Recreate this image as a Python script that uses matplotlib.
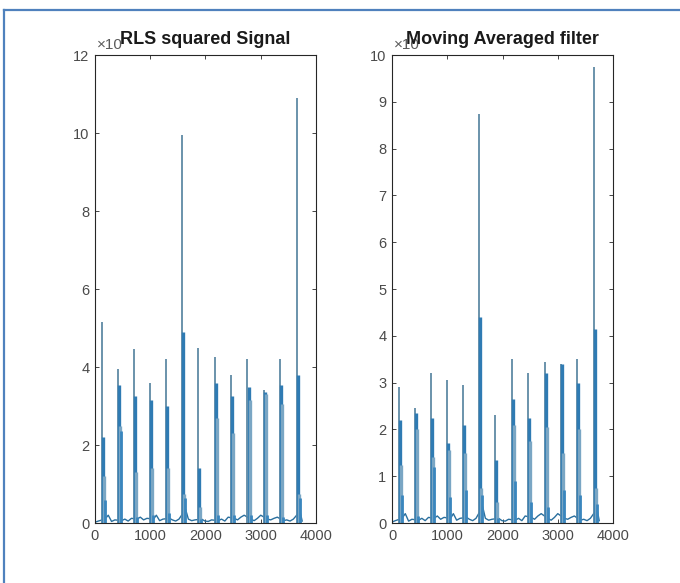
import numpy as np
import matplotlib.pyplot as plt

plt.rcParams['font.family'] = ['Liberation Sans', 'DejaVu Sans']

# cluster centres (sample index) shared by both signals
centres = [120, 415, 705, 995, 1290, 1580, 1870, 2175, 2465, 2760, 3060, 3350, 3650]

# RLS squared signal: heights of the spikes in each cluster
rls_peak = [5.15, 3.95, 4.45, 3.6, 4.2, 9.95, 4.5, 4.25, 3.8, 4.2, 3.4, 4.2, 10.9]
rls_second = [2.2, 3.55, 3.25, 3.15, 3.0, 4.9, 1.4, 3.6, 3.25, 3.5, 3.35, 3.55, 3.8]
rls_third = [1.2, 2.5, 1.3, 1.4, 1.4, 0.75, 0.4, 2.7, 2.3, 3.15, 3.3, 3.05, 0.75]
rls_fourth = [0.6, 2.35, 0.15, 0.2, 0.25, 0.65, 0.1, 0.2, 0.2, 0.2, 0.2, 0.15, 0.65]

# moving averaged filter output
mav_peak = [2.9, 2.45, 3.2, 3.05, 2.95, 8.75, 2.3, 3.5, 3.2, 3.45, 3.4, 3.5, 9.75]
mav_second = [2.2, 2.35, 2.25, 1.7, 2.1, 4.4, 1.35, 2.65, 2.25, 3.2, 3.4, 3.0, 4.15]
mav_third = [1.25, 2.0, 1.4, 1.55, 1.5, 0.75, 0.45, 2.1, 1.75, 2.05, 1.5, 2.0, 0.75]
mav_fourth = [0.6, 0.15, 1.2, 0.55, 0.7, 0.6, 0.1, 0.9, 0.45, 0.35, 0.7, 0.6, 0.4]

# low level activity between the bursts
base_x = [0, 60, 180, 240, 300, 360, 480, 540, 600, 660, 760, 820, 880, 940, 1060, 1110,
          1170, 1230, 1350, 1400, 1460, 1520, 1640, 1690, 1750, 1810, 1930, 1990, 2050,
          2110, 2230, 2290, 2350, 2410, 2520, 2580, 2640, 2700, 2820, 2880, 2940, 3000,
          3120, 3180, 3240, 3300, 3410, 3470, 3530, 3590, 3710, 3750]
base_y = [0.02, 0.05, 0.1, 0.2, 0.04, 0.08, 0.06, 0.1, 0.05, 0.12, 0.1, 0.15, 0.08, 0.12,
          0.1, 0.2, 0.06, 0.1, 0.12, 0.08, 0.05, 0.1, 0.35, 0.1, 0.06, 0.08, 0.1, 0.05,
          0.04, 0.08, 0.06, 0.1, 0.05, 0.15, 0.12, 0.08, 0.15, 0.2, 0.1, 0.06, 0.12, 0.2,
          0.1, 0.08, 0.12, 0.15, 0.06, 0.08, 0.05, 0.1, 0.3, 0.05]

fig = plt.figure(figsize=(6.8, 5.83), dpi=100)

# page edge lines
fig.add_artist(plt.Line2D([0.006, 0.006], [0, 0.983], color='#4f81bd', lw=1.6))
fig.add_artist(plt.Line2D([0.006, 1], [0.983, 0.983], color='#4f81bd', lw=1.6))

ax1 = fig.add_axes([0.1397, 0.1029, 0.325, 0.8027])
ax2 = fig.add_axes([0.5765, 0.1029, 0.325, 0.8027])


def draw(ax, peak, second, third, fourth, ymax, ystep, title):
    c = np.array(centres)
    ax.plot(base_x, base_y, color='#2a6f9e', lw=1.0)
    ax.vlines(c, 0, peak, color='#5f8aa5', lw=1.3)
    ax.vlines(c + 20, 0, second, color='#2f7bb3', lw=2.4)
    ax.vlines(c + 38, 0, third, color='#7aa6c4', lw=2.4)
    ax.vlines(c + 55, 0, fourth, color='#3a86be', lw=2.0)
    ax.set_xlim(0, 4000)
    ax.set_ylim(0, ymax)
    ax.set_xticks([0, 1000, 2000, 3000, 4000])
    ax.set_yticks(np.arange(0, ymax + 1, ystep))
    ax.tick_params(direction='in', length=3, width=0.6, top=True, right=True,
                   labelsize=10.5, labelcolor='#4a4a4a', color='#262626', pad=4)
    for s in ax.spines.values():
        s.set_color('#262626')
        s.set_linewidth(0.8)
    # exponent marker, partly hidden under the title
    ax.text(0.01, 1.006, '×10', transform=ax.transAxes, fontsize=11,
            color='#5a5a5a', va='bottom', ha='left', zorder=1)
    ax.set_title(title, fontsize=13, fontweight='bold', pad=8, color='#1a1a1a', zorder=5)


draw(ax1, rls_peak, rls_second, rls_third, rls_fourth, 12, 2, 'RLS squared Signal')
draw(ax2, mav_peak, mav_second, mav_third, mav_fourth, 10, 1, 'Moving Averaged filter')

fig.savefig('out.png', dpi=100)
